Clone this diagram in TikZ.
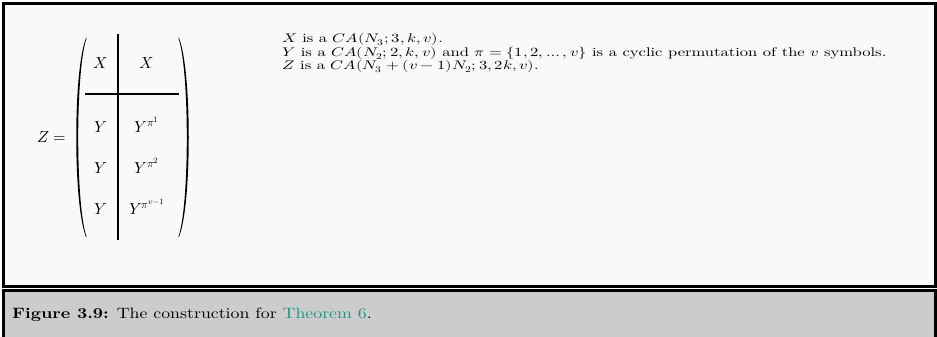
\documentclass[tikz,border=0pt]{standalone}
\usepackage{fontspec,amsmath,unicode-math}
\usepackage{xcolor}
\usetikzlibrary{positioning}
\setmainfont{lmroman10-regular}[Extension=.otf,BoldFont=lmroman10-bold,ItalicFont=lmroman10-italic]
\definecolor{panelbg}{RGB}{249,249,249}
\definecolor{capbg}{RGB}{204,204,204}
\definecolor{reflink}{RGB}{30,150,128}

\begin{document}
\begin{tikzpicture}[x=1pt,y=-1pt,
 ent/.style={anchor=base,inner sep=0pt,font=\fontsize{16}{19}\selectfont},
 txt/.style={anchor=base west,inner sep=0pt,xscale=1.325,font=\fontsize{12.5}{14}\selectfont},
 frame/.style={line width=3pt},
 rule/.style={line width=1.7pt}]
\useasboundingbox (0,0) rectangle (937,337);
\filldraw[fill=panelbg,frame] (3.5,3.5) rectangle (935,286.2);
\filldraw[fill=capbg,frame] (3.5,290.8) rectangle (935,345);
% the block matrix
\node[ent] (zeq) at (52,142.5) {$Z=$};
\node[ent] (xl) at (101,68.5) {$X$};
\node[ent] (xr) at (147,68.5) {$X$};
\foreach \r/\yy/\e in {1/132.5/1,2/173.5/2,3/214.5/{v-1}}{
 \node[ent] (yl\r) at (101,\yy) {$Y$};
 \node[ent] (yr\r) at (147,\yy) {$Y^{\pi^{\e}}$};
}
\draw[rule] (118,34)--(118,240);
\draw[rule] (85,94)--(179,94);
\fill (86,38) .. controls (73,70) and (73,205) .. (86,237)
 -- (86.6,237) .. controls (75.4,205) and (75.4,70) .. (86.6,38) -- cycle;
\fill (179,38) .. controls (192,70) and (192,205) .. (179,237)
 -- (178.4,237) .. controls (189.6,205) and (189.6,70) .. (178.4,38) -- cycle;
% the notes
\node[txt] (n1) at (282,42.3) {$X$ is a $CA(N_3;3,k,v)$.};
\node[txt] (n2) at (282,56.1) {$Y$ is a $CA(N_2;2,k,v)$ and $\pi=\{1,2,\ldots,v\}$ is a cyclic permutation of the $v$ symbols.};
\node[txt] (n3) at (282,69.9) {$Z$ is a $CA(N_3+(v-1)N_2;3,2k,v)$.};
% caption
\node[anchor=base west,inner sep=0pt,xscale=1.187,font=\fontsize{15}{18}\selectfont] (cap) at (12,318.5)
 {\textbf{Figure 3.9:} The construction for \textcolor{reflink}{Theorem 6}.};
\end{tikzpicture}
\end{document}
